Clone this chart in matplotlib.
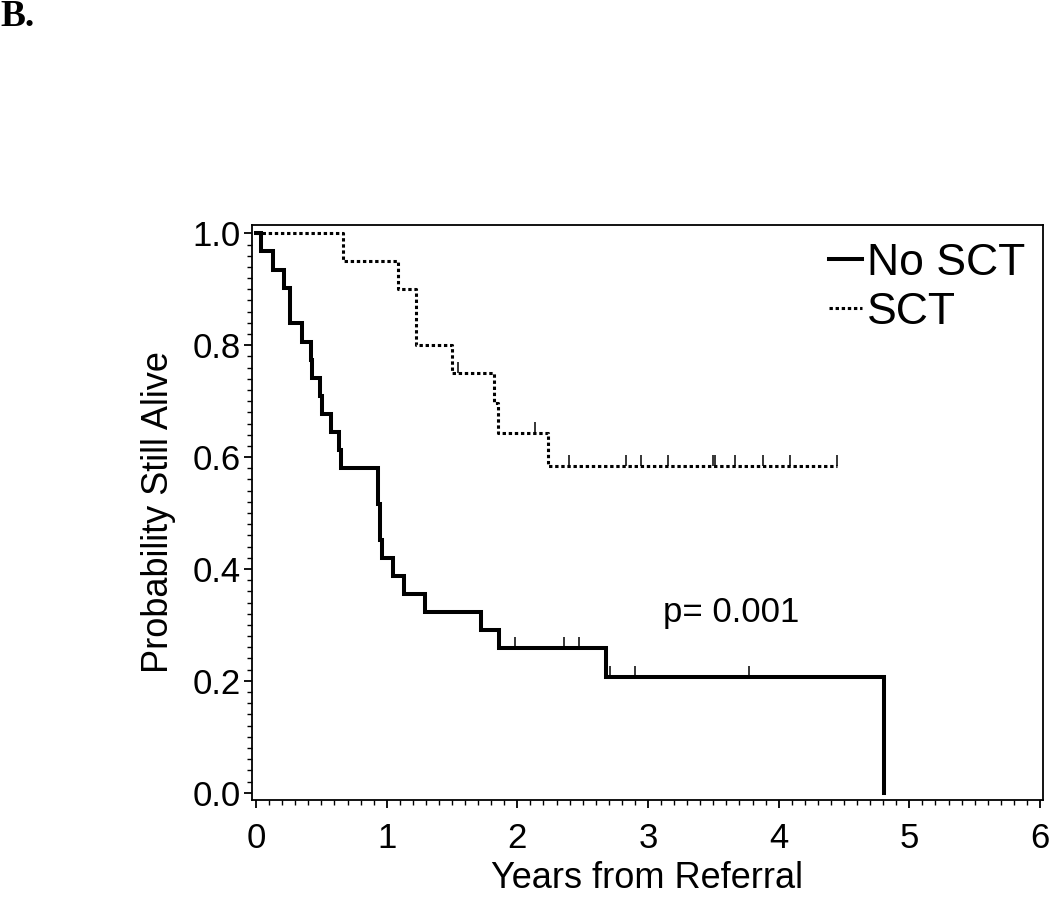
import matplotlib
matplotlib.use("Agg")
import matplotlib.pyplot as plt
import numpy as np
from matplotlib.ticker import MultipleLocator, FormatStrFormatter

plt.rcParams['font.family'] = ['Liberation Sans', 'DejaVu Sans']

# Kaplan-Meier steps (time in years, survival after the step)
no_sct_times = [0.0, 0.036, 0.130, 0.215, 0.258, 0.350, 0.419, 0.431, 0.490, 0.508,
                0.572, 0.636, 0.649, 0.930, 0.936, 0.945, 0.952, 0.963, 1.045,
                1.134, 1.290, 1.722, 1.857, 2.680, 4.807]
no_sct_surv = [1.000, 0.968, 0.935, 0.903, 0.839, 0.806, 0.774, 0.742, 0.710, 0.677,
               0.645, 0.613, 0.581, 0.548, 0.516, 0.484, 0.452, 0.419, 0.387,
               0.355, 0.323, 0.290, 0.258, 0.206, 0.000]
no_sct_censored = [1.985, 2.360, 2.475, 2.710, 2.897, 3.773]

sct_times = [0.0, 0.669, 1.088, 1.224, 1.497, 1.824, 1.849, 2.232]
sct_surv = [1.000, 0.950, 0.900, 0.800, 0.750, 0.696, 0.643, 0.584]
sct_censored = [1.548, 2.138, 2.398, 2.833, 2.948, 3.152, 3.497, 3.515, 3.663,
                3.880, 4.090, 4.450]

p_text = "p= 0.001"


def surv_at(times, surv, t):
    idx = np.searchsorted(times, t, side='right') - 1
    return np.asarray(surv)[idx]


fig = plt.figure(figsize=(10.5, 9.02), dpi=100)
ax = fig.add_axes([0.24, 0.1131, 0.7533, 0.6375])

# No SCT: solid
ax.plot(no_sct_times, no_sct_surv, drawstyle='steps-post', color='black',
        lw=2.9, solid_joinstyle='miter', label='No SCT')
cs = surv_at(no_sct_times, no_sct_surv, no_sct_censored)
ax.vlines(no_sct_censored, cs, cs + 0.02, color='black', lw=1.1)

# SCT: dotted, line runs out to the last censored time
sct_x = sct_times + [max(sct_censored)]
sct_y = sct_surv + [sct_surv[-1]]
ax.plot(sct_x, sct_y, drawstyle='steps-post', color='black', lw=2.2,
        linestyle=(0, (1.1, 0.9)), dash_capstyle='butt', label='SCT')
cs = surv_at(sct_times, sct_surv, sct_censored)
ax.vlines(sct_censored, cs, cs + 0.02, color='black', lw=1.1)

ax.text(3.115, 0.323, p_text, fontsize=25, ha='left', va='center')

ax.set_xlim(-0.031, 6.023)
ax.set_ylim(-0.013, 1.015)
ax.xaxis.set_major_locator(MultipleLocator(1))
ax.xaxis.set_minor_locator(MultipleLocator(0.1))
ax.yaxis.set_major_locator(MultipleLocator(0.2))
ax.yaxis.set_minor_locator(MultipleLocator(0.02))
ax.yaxis.set_major_formatter(FormatStrFormatter('%.1f'))
ax.tick_params(which='major', direction='out', length=6, width=1.3, labelsize=25)
ax.tick_params(which='minor', direction='out', length=3.5, width=1.0)
ax.tick_params(axis='x', which='major', pad=10)
ax.tick_params(axis='y', which='major', pad=2)
for sp in ax.spines.values():
    sp.set_linewidth(1.3)

ax.set_xlabel('Years from Referral', fontsize=26, labelpad=4)
ax.set_ylabel('Probability Still Alive', fontsize=26, labelpad=12)

ax.legend(loc='upper right', frameon=False, fontsize=32, handlelength=0.75,
          handletextpad=0.1, labelspacing=0.18, borderaxespad=0.3,
          borderpad=0.1)

fig.text(0.0, 1 - 16 / 902, 'B.', fontsize=27, fontweight='bold',
         family=['Liberation Serif', 'DejaVu Serif'], ha='left', va='center')

fig.savefig('out.png', dpi=100)
